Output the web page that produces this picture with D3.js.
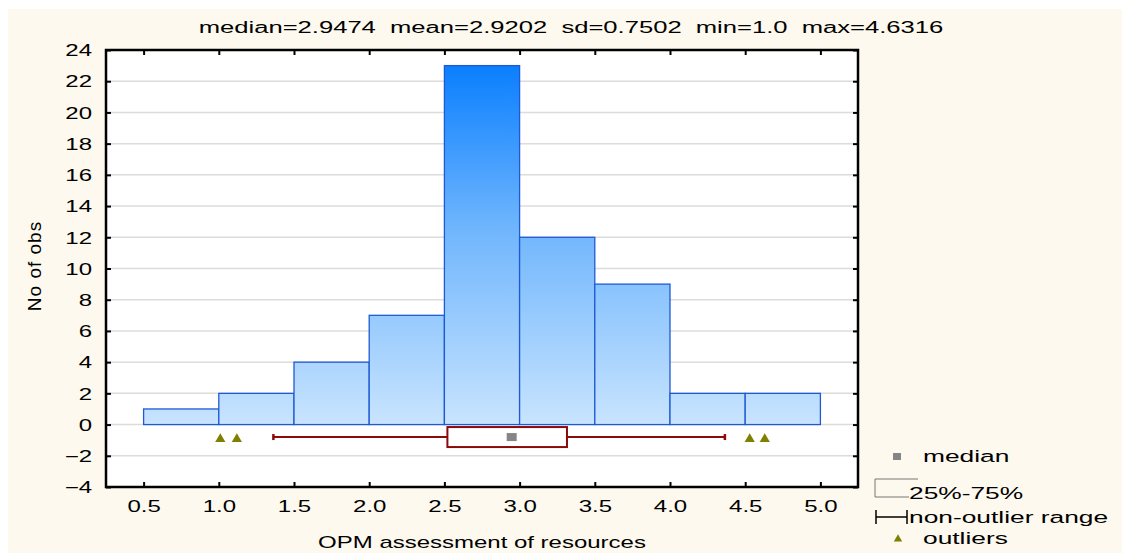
<!DOCTYPE html>
<html lang="en">
<head>
<meta charset="UTF-8">
<title>OPM assessment of resources - histogram</title>
<script src="https://d3js.org/d3.v7.min.js"></script>
<style>
  body { margin: 0; background: #ffffff; }
  svg text { font-family: "Liberation Sans", Arial, sans-serif; fill: #000; }
</style>
</head>
<body>
<div id="chart"></div>
<script>
// histogram bins (lower edge, upper edge, count)
const binStarts = [0.5, 1.0, 1.5, 2.0, 2.5, 3.0, 3.5, 4.0, 4.5];
const binEnds   = [1.0, 1.5, 2.0, 2.5, 3.0, 3.5, 4.0, 4.5, 5.0];
const counts    = [1, 2, 4, 7, 23, 12, 9, 2, 2];

// box plot stats
const boxStats = { median: 2.9474, q1: 2.52, q3: 3.315, low: 1.363, high: 4.365 };
const outliers = [1.01, 1.12, 4.53, 4.63];
const boxLevel = -0.8;

const xTicks = [0.5, 1.0, 1.5, 2.0, 2.5, 3.0, 3.5, 4.0, 4.5, 5.0];
const yTicks = [-4, -2, 0, 2, 4, 6, 8, 10, 12, 14, 16, 18, 20, 22, 24];
const title = "median=2.9474\u00a0\u00a0mean=2.9202\u00a0\u00a0sd=0.7502\u00a0\u00a0min=1.0\u00a0\u00a0max=4.6316";
const legendItems = ["median", "25%-75%", "non-outlier range", "outliers"];

const W = 1122, H = 553;
const plot = { left: 106, top: 50, right: 858, bottom: 487 };
const SX = 1.5; // horizontal stretch of the lettering

const svg = d3.select("#chart").append("svg")
  .attr("width", W).attr("height", H);

// cream background
svg.append("rect").attr("x", 8).attr("y", 9).attr("width", W - 8).attr("height", H - 9)
  .attr("fill", "#fdf9ee");

const x = d3.scaleLinear().domain([0.25, 5.25]).range([plot.left, plot.right]);
const y = d3.scaleLinear().domain([-4, 24]).range([plot.bottom, plot.top]);

const defs = svg.append("defs");
const grad = defs.append("linearGradient").attr("id", "barGrad")
  .attr("gradientUnits", "userSpaceOnUse")
  .attr("x1", 0).attr("x2", 0).attr("y1", y(23)).attr("y2", y(0));
grad.append("stop").attr("offset", "0%").attr("stop-color", "#0a7ffe");
grad.append("stop").attr("offset", "45%").attr("stop-color", "#6fb5fd");
grad.append("stop").attr("offset", "100%").attr("stop-color", "#c8e4fe");

// plot area
svg.append("rect").attr("x", plot.left).attr("y", plot.top)
  .attr("width", plot.right - plot.left).attr("height", plot.bottom - plot.top)
  .attr("fill", "#fff");

// gridlines
svg.append("g").selectAll("line").data(yTicks.filter(d => d > -4 && d < 24)).enter()
  .append("line")
  .attr("x1", plot.left).attr("x2", plot.right)
  .attr("y1", d => y(d)).attr("y2", d => y(d))
  .attr("stroke", "#dcdcdc").attr("stroke-width", 1.5);

// bars
svg.append("g").selectAll("rect").data(counts).enter().append("rect")
  .attr("x", (d, i) => x(binStarts[i]))
  .attr("y", d => y(d))
  .attr("width", (d, i) => x(binEnds[i]) - x(binStarts[i]))
  .attr("height", d => y(0) - y(d))
  .attr("fill", "url(#barGrad)")
  .attr("stroke", "#1f5ad4").attr("stroke-width", 1.3);

// box plot
const boxCol = "#8b0a0a";
const by = y(boxLevel);
const bp = svg.append("g");
bp.append("line").attr("x1", x(boxStats.low)).attr("x2", x(boxStats.q1))
  .attr("y1", by).attr("y2", by).attr("stroke", boxCol).attr("stroke-width", 2);
bp.append("line").attr("x1", x(boxStats.q3)).attr("x2", x(boxStats.high))
  .attr("y1", by).attr("y2", by).attr("stroke", boxCol).attr("stroke-width", 2);
[boxStats.low, boxStats.high].forEach(v => {
  bp.append("line").attr("x1", x(v)).attr("x2", x(v))
    .attr("y1", by - 3).attr("y2", by + 3).attr("stroke", boxCol).attr("stroke-width", 2.5);
});
bp.append("rect").attr("x", x(boxStats.q1)).attr("y", by - 10)
  .attr("width", x(boxStats.q3) - x(boxStats.q1)).attr("height", 20)
  .attr("fill", "#fff").attr("stroke", boxCol).attr("stroke-width", 2);
bp.append("rect").attr("x", x(boxStats.median) - 5).attr("y", by - 4)
  .attr("width", 10).attr("height", 8).attr("fill", "#858585");

const tri = d3.symbol().type(d3.symbolTriangle).size(45);
bp.selectAll("path.out").data(outliers).enter().append("path")
  .attr("class", "out")
  .attr("transform", d => `translate(${x(d)},${by + 2})`)
  .attr("d", tri).attr("fill", "#7f7f00");

// frame
svg.append("rect").attr("x", plot.left).attr("y", plot.top)
  .attr("width", plot.right - plot.left).attr("height", plot.bottom - plot.top)
  .attr("fill", "none").attr("stroke", "#000").attr("stroke-width", 2.5);

// axes with inward ticks
function styleAxis(g) {
  g.select(".domain").remove();
  g.selectAll(".tick line").attr("stroke", "#000").attr("stroke-width", 2);
}
const gBottom = svg.append("g").attr("transform", `translate(0,${plot.bottom})`)
  .call(d3.axisBottom(x).tickValues(xTicks).tickFormat(d3.format(".1f")).tickSize(-5).tickPadding(0))
  .call(styleAxis);
gBottom.selectAll(".tick text")
  .attr("y", 0).attr("dy", 0)
  .attr("transform", `translate(0,25) scale(${SX},1)`)
  .style("font-size", "16px").style("fill", "#000");

svg.append("g").attr("transform", `translate(0,${plot.top})`)
  .call(d3.axisTop(x).tickValues(xTicks).tickFormat("").tickSize(-5))
  .call(styleAxis);

const gLeft = svg.append("g").attr("transform", `translate(${plot.left},0)`)
  .call(d3.axisLeft(y).tickValues(yTicks).tickSize(-5))
  .call(styleAxis);
gLeft.selectAll(".tick text")
  .attr("x", 0).attr("dy", "0.36em")
  .attr("transform", `translate(-14,0) scale(${SX},1)`)
  .style("font-size", "16px").style("fill", "#000");

svg.append("g").attr("transform", `translate(${plot.right},0)`)
  .call(d3.axisRight(y).tickValues(yTicks).tickFormat("").tickSize(-5))
  .call(styleAxis);

// titles
function stretchedText(tx, ty, str, anchor, size, sx = SX) {
  return svg.append("text")
    .attr("transform", `translate(${tx},${ty}) scale(${sx},1)`)
    .attr("text-anchor", anchor)
    .style("font-size", size + "px")
    .text(str);
}
stretchedText(571, 33, title, "middle", 16, 1.6);
stretchedText(482, 548, "OPM assessment of resources", "middle", 16);

svg.append("text")
  .attr("transform", `translate(41,266) rotate(-90)`)
  .attr("text-anchor", "middle")
  .style("font-size", "19px")
  .style("letter-spacing", "1px")
  .text("No of obs");

// legend
const lg = svg.append("g");
lg.append("rect").attr("x", 893).attr("y", 453).attr("width", 8).attr("height", 7).attr("fill", "#858585");
stretchedText(923, 462, legendItems[0], "start", 17, 1.55);

lg.append("path").attr("d", "M918,479 H875 V497 H909")
  .attr("fill", "none").attr("stroke", "#777").attr("stroke-width", 1);
stretchedText(909, 499, legendItems[1], "start", 17, 1.55);

lg.append("path").attr("d", "M876,517 H907 M876,510 V524 M907,510 V524")
  .attr("fill", "none").attr("stroke", "#000").attr("stroke-width", 1.5);
stretchedText(909, 523, legendItems[2], "start", 17, 1.55);

lg.append("path").attr("transform", "translate(898,539)")
  .attr("d", d3.symbol().type(d3.symbolTriangle).size(30)).attr("fill", "#7f7f00");
stretchedText(923, 544, legendItems[3], "start", 17, 1.55);
</script>
</body>
</html>
